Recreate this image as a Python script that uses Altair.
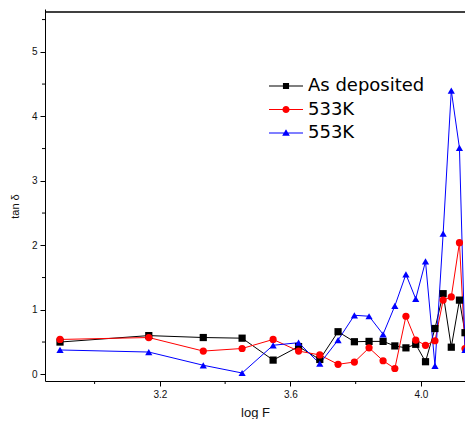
import altair as alt
import pandas as pd

# ---- data ----
log_f = [2.894, 3.166, 3.333, 3.452, 3.547, 3.625, 3.690, 3.746, 3.796, 3.841,
         3.884, 3.920, 3.954, 3.984, 4.014, 4.043, 4.068, 4.093, 4.118, 4.135]
as_deposited = [0.50, 0.60, 0.57, 0.56, 0.22, 0.43, 0.23, 0.66, 0.505, 0.51,
                0.51, 0.44, 0.41, 0.465, 0.195, 0.71, 1.25, 0.42, 1.15, 0.645]
k533 = [0.54, 0.57, 0.36, 0.40, 0.54, 0.36, 0.30, 0.155, 0.19, 0.41,
        0.21, 0.09, 0.90, 0.53, 0.45, 0.52, 1.15, 1.20, 2.04, 0.40]
k553 = [0.377, 0.345, 0.14, 0.02, 0.45, 0.49, 0.165, 0.53, 0.915, 0.90,
        0.62, 1.06, 1.55, 1.17, 1.75, 0.13, 2.18, 4.40, 3.51, 0.38]

series_names = ["As deposited", "533K", "553K"]
series_colors = ["#000000", "#ff0000", "#0000ff"]
series_shapes = ["square", "circle", "triangle-up"]

x_range = [2.848, 4.135]
y_range = [-0.104, 5.664]
x_major = [3.2, 3.6, 4.0]
x_minor = [3.0, 3.4, 3.8]
y_major = [0, 1, 2, 3, 4, 5]
y_minor = [0.5, 1.5, 2.5, 3.5, 4.5, 5.5]

# ---- tables ----
rows = []
for name, vals in zip(series_names, [as_deposited, k533, k553]):
    for xv, yv in zip(log_f, vals):
        rows.append({"series": name, "logF": xv, "tan": yv})
df = pd.DataFrame(rows)
leg_df = pd.DataFrame({"series": series_names})
xmin_df = pd.DataFrame({"logF": x_minor})
ymin_df = pd.DataFrame({"tan": y_minor})
frame_df = pd.DataFrame({"logF": [x_range[0]], "logF2": [x_range[1]], "tan": [y_range[1]]})

W, H = 420, 372
FONT = "Liberation Sans"

xscale = alt.Scale(domain=x_range, nice=False, zero=False)
yscale = alt.Scale(domain=y_range, nice=False, zero=False)
xaxis = alt.Axis(values=x_major, format=".1f", title="log F", grid=False,
                 tickSize=5, tickColor="black", domainColor="black",
                 labelFont=FONT, labelFontSize=10, labelColor="#111",
                 labelPadding=3, titleFont=FONT, titleFontSize=13,
                 titleFontWeight="normal", titleColor="#111", titlePadding=7)
yaxis = alt.Axis(values=y_major, format="d", title="tan δ", grid=False,
                 tickSize=5, tickColor="black", domainColor="black",
                 labelFont=FONT, labelFontSize=10, labelColor="#111",
                 labelPadding=3, titleFont=FONT, titleFontSize=11,
                 titleFontWeight="normal", titleColor="#111",
                 titleX=-25, titleY=197)

X = alt.X("logF:Q", scale=xscale, axis=xaxis)
Y = alt.Y("tan:Q", scale=yscale, axis=yaxis)

color_plain = alt.Color("series:N", scale=alt.Scale(domain=series_names, range=series_colors), legend=None)

lines = alt.Chart(df).mark_line(strokeWidth=1, clip=True).encode(
    x=X, y=Y, color=color_plain, detail="series:N")

points = alt.Chart(df).mark_point(filled=True, size=52, opacity=1, clip=True).encode(
    x=X, y=Y, color=color_plain,
    shape=alt.Shape("series:N", scale=alt.Scale(domain=series_names, range=series_shapes), legend=None))

# legend symbols: line segment with a marker in the middle
bar = "M-2,-0.06H2V0.06H-2Z "
legend_paths = [
    bar + "M-0.36,-0.36H0.36V0.36H-0.36Z",
    bar + "M0.42,0A0.42,0.42,0,1,1,-0.42,0A0.42,0.42,0,1,1,0.42,0Z",
    bar + "M0,-0.45L0.45,0.33L-0.45,0.33Z",
]
leg_def = alt.Legend(title=None, orient="none", legendX=232, legendY=68,
                     direction="vertical", symbolSize=289, symbolStrokeWidth=0,
                     symbolOpacity=1, labelFont="DejaVu Sans", labelFontSize=18,
                     labelColor="black", labelOffset=13, rowPadding=5.5,
                     padding=0, labelLimit=300)
legend_layer = alt.Chart(leg_df).mark_point(filled=True, opacity=0).encode(
    color=alt.Color("series:N", scale=alt.Scale(domain=series_names, range=series_colors), legend=leg_def),
    shape=alt.Shape("series:N", scale=alt.Scale(domain=series_names, range=legend_paths), legend=leg_def))

# top frame line
top_frame = alt.Chart(frame_df).mark_rule(color="black", strokeWidth=1.6, yOffset=3).encode(
    x=X, x2="logF2:Q", y=Y)

x_minor_ticks = alt.Chart(xmin_df).mark_rule(color="black", strokeWidth=1).encode(
    x=X, y=alt.value(H), y2=alt.value(H + 3))
y_minor_ticks = alt.Chart(ymin_df).mark_rule(color="black", strokeWidth=1).encode(
    y=Y, x=alt.value(-3), x2=alt.value(0))

chart = alt.layer(lines, points, legend_layer, x_minor_ticks, y_minor_ticks, top_frame).resolve_scale(
    color="independent", shape="independent"
).properties(
    width=W, height=H,
    autosize=alt.AutoSizeParams(type="none"),
    padding={"left": 37, "top": 1, "right": 0, "bottom": 38},
    background="white",
).configure_view(stroke=None)

chart.save("out.html", embed_options={"renderer": "svg", "actions": False})
